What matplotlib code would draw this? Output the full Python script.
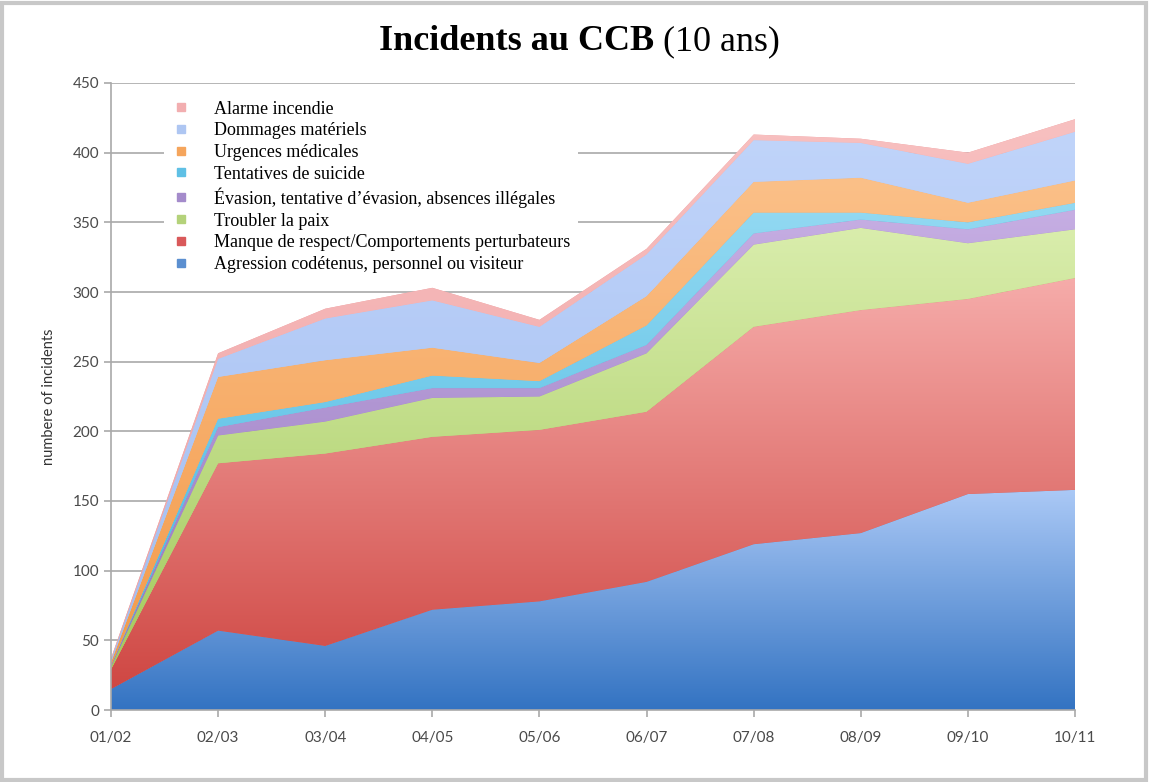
import numpy as np
import matplotlib
matplotlib.use("Agg")
import matplotlib.pyplot as plt
from matplotlib.colors import LinearSegmentedColormap
from matplotlib.lines import Line2D
from matplotlib.patches import Rectangle

# ---- data ----
years = ["01/02", "02/03", "03/04", "04/05", "05/06", "06/07", "07/08", "08/09", "09/10", "10/11"]
agression = [15, 57, 46, 72, 78, 92, 119, 127, 155, 158]
manque_respect = [14, 120, 138, 124, 123, 122, 156, 160, 140, 152]
troubler_paix = [2, 20, 23, 28, 24, 42, 59, 59, 40, 35]
evasion = [1, 6, 10, 7, 6, 6, 8, 6, 10, 14]
suicide = [0, 6, 4, 9, 5, 14, 15, 5, 5, 5]
urgences = [2, 30, 30, 20, 13, 21, 22, 25, 14, 16]
dommages = [2, 13, 30, 34, 26, 30, 30, 25, 28, 35]
alarme = [1, 4, 7, 9, 5, 4, 4, 3, 8, 9]

labels = [
    "Agression codétenus, personnel ou visiteur",
    "Manque de respect/Comportements perturbateurs",
    "Troubler la paix",
    "Évasion, tentative d\u2019évasion, absences illégales",
    "Tentatives de suicide",
    "Urgences médicales",
    "Dommages matériels",
    "Alarme incendie",
]
series = [agression, manque_respect, troubler_paix, evasion, suicide, urgences, dommages, alarme]
# (dark, light) gradient colors per series
colors = [
    ("#3373c2", "#abc9f6"),
    ("#cf4743", "#f6acaa"),
    ("#a3c95c", "#d9edac"),
    ("#9475bd", "#c6aee3"),
    ("#45b6e0", "#93d9f2"),
    ("#f39a4a", "#fbc088"),
    ("#a2bdf0", "#c0d4fa"),
    ("#eea0a2", "#f8c0c0"),
]
legend_colors = ["#5b8fd0", "#d9595a", "#b4d27a", "#a48bcb", "#5fc0e5", "#f5a55c", "#aec6f2", "#f2aeb0"]

W, H = 1149, 782
fig = plt.figure(figsize=(W / 100, H / 100), dpi=100)
fig.patch.set_facecolor("white")
fig.add_artist(Rectangle((2 / W, 2 / H), (W - 5) / W, (H - 5) / H, transform=fig.transFigure,
                         fill=False, edgecolor="#c8c8c8", lw=3))

ax = fig.add_axes([111 / W, (H - 710) / H, (1075 - 111) / W, (710 - 83) / H])
x = np.arange(len(years))

cum = np.zeros(len(years))
for vals, (c0, c1) in zip(series, colors):
    vals = np.array(vals, dtype=float)
    lower = cum.copy()
    upper = cum + vals
    poly = ax.fill_between(x, lower, upper, facecolor=c0, lw=0, zorder=1)
    ymin, ymax = lower.min(), upper.max()
    cmap = LinearSegmentedColormap.from_list("g", [c0, c1])
    grad = np.linspace(0, 1, 256).reshape(-1, 1)
    im = ax.imshow(grad, extent=[x[0], x[-1], ymin, ymax], origin="lower", aspect="auto",
                   cmap=cmap, zorder=1.1, interpolation="bilinear")
    im.set_clip_path(poly.get_paths()[0], transform=ax.transData)
    cum = upper

ax.set_xlim(0, len(years) - 1)
ax.set_ylim(0, 450)
ax.set_xticks(x)
ax.set_xticklabels(years)
ax.set_yticks(np.arange(0, 451, 50))
ax.set_axisbelow(True)
ax.yaxis.grid(True, color="#a9a9a9", lw=1.2)
for s in ["top", "right"]:
    ax.spines[s].set_visible(False)
for s in ["left", "bottom"]:
    ax.spines[s].set_color("#a9a9a9")
    ax.spines[s].set_linewidth(1.2)
ax.tick_params(axis="both", colors="#a9a9a9", length=5, width=1.2, labelcolor="#4a4a4a",
               labelsize=11)
ax.tick_params(axis="x", pad=10)
for t in ax.get_xticklabels() + ax.get_yticklabels():
    t.set_fontfamily("Lato")
ax.set_ylabel("numbere of incidents", fontfamily="Lato", fontsize=10.5, color="#333333", labelpad=12)

# legend
handles = [Line2D([], [], marker="s", ls="none", markersize=6, markerfacecolor=c, markeredgecolor=c)
           for c in legend_colors]
leg = ax.legend(handles[::-1], labels[::-1], loc="upper left", bbox_to_anchor=(0.055, 0.985),
                frameon=True, facecolor="white", edgecolor="none", framealpha=1,
                prop={"family": "Liberation Serif", "size": 13}, labelspacing=0.26,
                handletextpad=1.3, handlelength=1.0, borderpad=0.45, borderaxespad=0)
leg.set_zorder(5)

# title with mixed weights, centered
renderer = fig.canvas.get_renderer()
ty = 1 - 42 / H
t1 = fig.text(0, ty, "Incidents au CCB ", fontfamily="Liberation Serif", fontsize=26,
              fontweight="bold", va="center", ha="left")
t2 = fig.text(0, ty, "(10 ans)", fontfamily="Liberation Serif", fontsize=26,
              va="center", ha="left")
w1 = t1.get_window_extent(renderer).width / W
w2 = t2.get_window_extent(renderer).width / W
start = 0.5043 - (w1 + w2) / 2
t1.set_x(start)
t2.set_x(start + w1)

fig.savefig("out.png", dpi=100)
